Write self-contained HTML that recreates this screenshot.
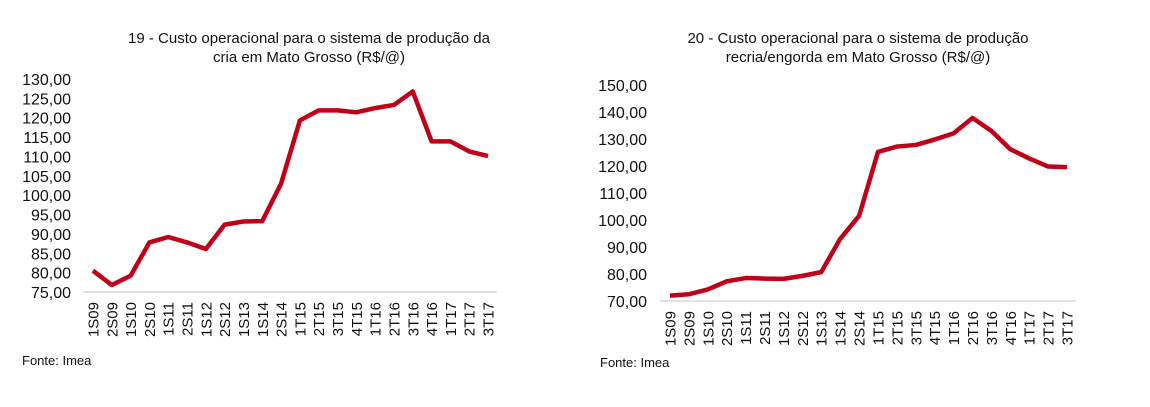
<!DOCTYPE html>
<html><head><meta charset="utf-8"><style>
body{margin:0;background:#fff;}
svg{display:block;font-family:"Liberation Sans",Arial,sans-serif;}
</style></head><body>
<svg width="1150" height="407" viewBox="0 0 1150 407">
<g id="c1">
<text x="309" y="43" font-size="15" text-anchor="middle" fill="#111">19 - Custo operacional para o sistema de produção da</text>
<text x="309" y="62" font-size="15" text-anchor="middle" fill="#111">cria em Mato Grosso (R$/@)</text>
<text x="22" y="365" font-size="13" fill="#111">Fonte: Imea</text>
</g>
<g id="c2">
<text x="858" y="43" font-size="15" text-anchor="middle" fill="#111">20 - Custo operacional para o sistema de produção</text>
<text x="858" y="62" font-size="15" text-anchor="middle" fill="#111">recria/engorda em Mato Grosso (R$/@)</text>
<text x="600" y="367" font-size="13" fill="#111">Fonte: Imea</text>
</g>
</svg>
<script>
const categories1 = ["1S09","2S09","1S10","2S10","1S11","2S11","1S12","2S12","1S13","1S14","2S14","1T15","2T15","3T15","4T15","1T16","2T16","3T16","4T16","1T17","2T17","3T17"];
const values1 = [80.5,76.8,79.2,87.8,89.2,87.8,86.1,92.4,93.2,93.3,103,119.3,121.9,121.9,121.4,122.5,123.3,126.8,113.9,113.9,111.3,110.1];
const ticks1 = [75,80,85,90,95,100,105,110,115,120,125,130];
const categories2 = ["1S09","2S09","1S10","2S10","1S11","2S11","1S12","2S12","1S13","1S14","2S14","1T15","2T15","3T15","4T15","1T16","2T16","3T16","4T16","1T17","2T17","3T17"];
const values2 = [72,72.5,74.3,77.3,78.5,78.3,78.2,79.3,80.7,93,101.5,125.2,127.2,127.8,129.8,132.1,137.8,133,126.2,122.8,119.8,119.6];
const ticks2 = [70,80,90,100,110,120,130,140,150];
const NS="http://www.w3.org/2000/svg";
function fmt(v){return v.toFixed(2).replace('.',',');}
function draw(g, cats, vals, ticks, cfg){
  const ymin=ticks[0], ymax=ticks[ticks.length-1];
  const y=v=>cfg.yBot-(v-ymin)/(ymax-ymin)*(cfg.yBot-cfg.yTop);
  const x=i=>cfg.x0+i*(cfg.x1-cfg.x0)/(cats.length-1);
  ticks.forEach(t=>{
    const tx=document.createElementNS(NS,'text');
    
    
    tx.setAttribute('x',cfg.labelX);tx.setAttribute('y',y(t)+6);
    tx.setAttribute('font-size','16');tx.setAttribute('text-anchor','end');tx.setAttribute('fill','#111');
    tx.textContent=fmt(t);g.appendChild(tx);
  });
  const ax=document.createElementNS(NS,'line');
  
  
  ax.setAttribute('x1',cfg.ax0);ax.setAttribute('x2',cfg.ax1);ax.setAttribute('y1',cfg.yBot);ax.setAttribute('y2',cfg.yBot);
  ax.setAttribute('stroke','#d9d9d9');ax.setAttribute('stroke-width','1.5');g.appendChild(ax);
  cats.forEach((c,i)=>{
    const tx=document.createElementNS(NS,'text');
    
    
    const lx=x(i)+5.5, ly=cfg.yBot+10;
    tx.setAttribute('x',lx);tx.setAttribute('y',ly);
    tx.setAttribute('transform','rotate(-90 '+lx+' '+ly+')');
    tx.setAttribute('font-size','15');tx.setAttribute('text-anchor','end');tx.setAttribute('fill','#111');
    tx.textContent=c;g.appendChild(tx);
  });
  const p=document.createElementNS(NS,'polyline');
  
  
  p.setAttribute('points',vals.map((v,i)=>x(i)+','+y(v)).join(' '));
  p.setAttribute('fill','none');p.setAttribute('stroke','#c00018');p.setAttribute('stroke-width','4.5');
  p.setAttribute('stroke-linejoin','round');g.appendChild(p);
}
draw(document.getElementById('c1'),categories1,values1,ticks1,{yTop:79,yBot:292,x0:93,x1:488,ax0:83,ax1:497,labelX:71});
draw(document.getElementById('c2'),categories2,values2,ticks2,{yTop:85,yBot:301,x0:670,x1:1067,ax0:660,ax1:1076,labelX:647});
</script>
</body></html>
